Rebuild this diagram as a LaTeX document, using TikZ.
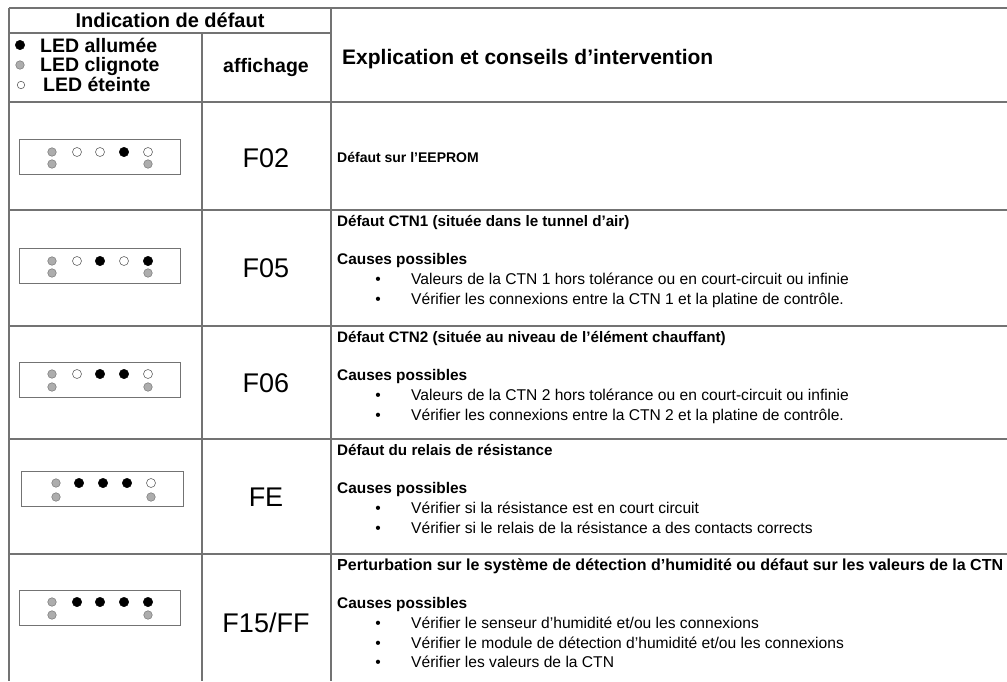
\documentclass[tikz,border=0pt]{standalone}
\usepackage{fontspec}
\setmainfont{Liberation Sans}
\begin{document}
\begin{tikzpicture}[x=1pt,y=-1pt,
  grid/.style={draw=black!55,line width=1.3pt},
  ledbox/.style={draw=black!55,line width=0.8pt},
  ledon/.style={circle,fill=black,draw=black,line width=0.4pt,inner sep=0pt,minimum size=9.5pt},
  ledoff/.style={circle,fill=white,draw=black!60,line width=0.6pt,inner sep=0pt,minimum size=9pt},
  ledbl/.style={circle,fill=black!32,draw=black!50,line width=0.6pt,inner sep=0pt,minimum size=8.5pt},
  hdr/.style={font=\fontsize{19.5}{22}\selectfont\bfseries,inner sep=0pt},
  code/.style={font=\fontsize{27}{30}\selectfont,inner sep=0pt},
  ttl/.style={font=\fontsize{15.2}{18}\selectfont\bfseries,anchor=base west,inner sep=0pt},
  cause/.style={font=\fontsize{15.4}{19}\selectfont\bfseries,anchor=base west,inner sep=0pt},
  body/.style={font=\fontsize{15.6}{19}\selectfont,anchor=base west,inner sep=0pt},
  bul/.style={font=\fontsize{15.6}{19}\selectfont,anchor=base,inner sep=0pt},
]
\useasboundingbox (0,0) rectangle (1007,681);
% grid
\draw[grid] (9,8) -- (1007,8);
\draw[grid] (9,8) -- (9,681);
\draw[grid] (331,8) -- (331,681);
\draw[grid] (202,33) -- (202,681);
\draw[grid] (9,33) -- (331,33);
\foreach \yy in {102,210,326,439,554} \draw[grid] (9,\yy) -- (1007,\yy);

% header
\node[hdr,font=\fontsize{20}{22}\selectfont\bfseries] (hind) at (170,20.5) {Indication de défaut};
\node[ledon] (k1) at (20,45) {};
\node[hdr,anchor=base west] (h1) at (40,52) {LED allumée};
\node[ledbl] (k2) at (20,65) {};
\node[hdr,anchor=base west] (h2) at (40,71.5) {LED clignote};
\node[ledoff,minimum size=7.5pt] (k3) at (21,85) {};
\node[hdr,anchor=base west] (h3) at (43,91) {LED éteinte};
\node[hdr,anchor=base] (haff) at (266,72) {affichage};
\node[hdr,anchor=base west,font=\fontsize{21}{24}\selectfont\bfseries] (hexp) at (342,64) {Explication et conseils d’intervention};

% row F02
\draw[ledbox] (19,139) rectangle (180,174);
\node[ledbl] (a1) at (52,152) {};
\node[ledoff] (a2) at (77,152) {};
\node[ledoff] (a3) at (100,152) {};
\node[ledon] (a4) at (124,152) {};
\node[ledoff] (a5) at (148,152) {};
\node[ledbl] (a6) at (52,164) {};
\node[ledbl] (a7) at (148,164) {};
\node[code] (c1) at (266,158) {F02};
\node[ttl,font=\fontsize{14}{17}\selectfont\bfseries] (t1) at (337,162) {Défaut sur l’EEPROM};

% row F05
\draw[ledbox] (19,248) rectangle (180,283);
\node[ledbl] (b1) at (52,261) {};
\node[ledoff] (b2) at (77,261) {};
\node[ledon] (b3) at (100,261) {};
\node[ledoff] (b4) at (124,261) {};
\node[ledon] (b5) at (148,261) {};
\node[ledbl] (b6) at (52,273) {};
\node[ledbl] (b7) at (148,273) {};
\node[code] (c2) at (266,268) {F05};
\node[ttl] (t2) at (337,226) {Défaut CTN1 (située dans le tunnel d’air)};
\node[cause] (p2) at (337,264) {Causes possibles};
\node[bul] (u21) at (378,284) {•};
\node[body] (v21) at (411,284) {Valeurs de la CTN 1 hors tolérance ou en court-circuit ou infinie};
\node[bul] (u22) at (378,304) {•};
\node[body] (v22) at (411,304) {Vérifier les connexions entre la CTN 1 et la platine de contrôle.};

% row F06
\draw[ledbox] (19,362) rectangle (180,397);
\node[ledbl] (d1) at (52,374) {};
\node[ledoff] (d2) at (77,374) {};
\node[ledon] (d3) at (100,374) {};
\node[ledon] (d4) at (124,374) {};
\node[ledoff] (d5) at (148,374) {};
\node[ledbl] (d6) at (52,387) {};
\node[ledbl] (d7) at (148,387) {};
\node[code] (c3) at (266,383) {F06};
\node[ttl] (t3) at (337,342) {Défaut CTN2 (située au niveau de l’élément chauffant)};
\node[cause] (p3) at (337,380) {Causes possibles};
\node[bul] (u31) at (378,400) {•};
\node[body] (v31) at (411,400) {Valeurs de la CTN 2 hors tolérance ou en court-circuit ou infinie};
\node[bul] (u32) at (378,420) {•};
\node[body] (v32) at (411,420) {Vérifier les connexions entre la CTN 2 et la platine de contrôle.};

% row FE
\draw[ledbox] (21,471) rectangle (183,506);
\node[ledbl] (e1) at (56,483) {};
\node[ledon] (e2) at (79,483) {};
\node[ledon] (e3) at (103,483) {};
\node[ledon] (e4) at (127,483) {};
\node[ledoff] (e5) at (151,483) {};
\node[ledbl] (e6) at (56,497) {};
\node[ledbl] (e7) at (151,497) {};
\node[code] (c4) at (266,497) {FE};
\node[ttl] (t4) at (337,455) {Défaut du relais de résistance};
\node[cause] (p4) at (337,493) {Causes possibles};
\node[bul] (u41) at (378,513) {•};
\node[body] (v41) at (411,513) {Vérifier si la résistance est en court circuit};
\node[bul] (u42) at (378,533) {•};
\node[body] (v42) at (411,533) {Vérifier si le relais de la résistance a des contacts corrects};

% row F15/FF
\draw[ledbox] (19,590) rectangle (180,625);
\node[ledbl] (f1) at (52,602) {};
\node[ledon] (f2) at (77,602) {};
\node[ledon] (f3) at (100,602) {};
\node[ledon] (f4) at (124,602) {};
\node[ledon] (f5) at (148,602) {};
\node[ledbl] (f6) at (52,615) {};
\node[ledbl] (f7) at (148,615) {};
\node[code] (c5) at (266,623) {F15/FF};
\node[cause,font=\fontsize{16}{19}\selectfont\bfseries] (t5) at (337,570) {Perturbation sur le système de détection d’humidité ou défaut sur les valeurs de la CTN};
\node[cause] (p5) at (337,608) {Causes possibles};
\node[bul] (u51) at (378,628) {•};
\node[body] (v51) at (411,628) {Vérifier le senseur d’humidité et/ou les connexions};
\node[bul] (u52) at (378,648) {•};
\node[body] (v52) at (411,648) {Vérifier le module de détection d’humidité et/ou les connexions};
\node[bul] (u53) at (378,667) {•};
\node[body] (v53) at (411,667) {Vérifier les valeurs de la CTN};
\end{tikzpicture}
\end{document}
